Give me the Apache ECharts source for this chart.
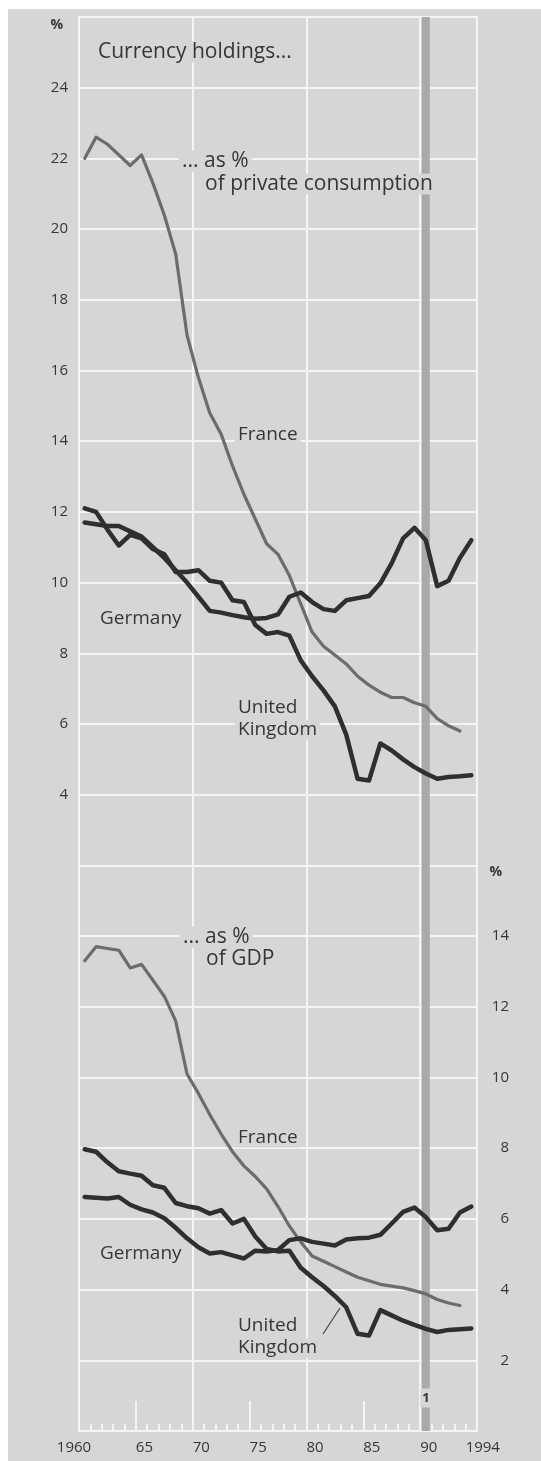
<!DOCTYPE html>
<html>
<head>
<meta charset="utf-8">
<script src="https://cdn.jsdelivr.net/npm/echarts@6/dist/echarts.min.js"></script>
<style>
  html, body { margin: 0; padding: 0; background: #ffffff; }
  #chart { width: 541px; height: 1461px; }
</style>
</head>
<body>
<div id="chart"></div>
<script>
// Years of observation (each plotted at mid-year)
const years = [1960, 1961, 1962, 1963, 1964, 1965, 1966, 1967, 1968, 1969,
               1970, 1971, 1972, 1973, 1974, 1975, 1976, 1977, 1978, 1979,
               1980, 1981, 1982, 1983, 1984, 1985, 1986, 1987, 1988, 1989,
               1990, 1991, 1992, 1993, 1994];

// Currency holdings as % of private consumption
const franceConsumption = [22.0, 22.6, 22.4, 22.1, 21.8, 22.1, 21.3, 20.4, 19.3, 17.0,
                           15.8, 14.8, 14.2, 13.3, 12.5, 11.8, 11.1, 10.8, 10.2, 9.4,
                           8.6, 8.2, 7.95, 7.7, 7.35, 7.1, 6.9, 6.75, 6.75, 6.6,
                           6.5, 6.15, 5.95, 5.8];
const germanyConsumption = [11.7, 11.65, 11.6, 11.6, 11.45, 11.3, 11.0, 10.7, 10.35, 10.0,
                            9.6, 9.2, 9.15, 9.08, 9.02, 8.98, 9.0, 9.1, 9.6, 9.72,
                            9.45, 9.25, 9.2, 9.5, 9.56, 9.62, 9.98, 10.55, 11.25, 11.55,
                            11.2, 9.9, 10.05, 10.7, 11.2];
const ukConsumption = [12.1, 12.0, 11.5, 11.05, 11.35, 11.25, 10.95, 10.8, 10.3, 10.3,
                       10.35, 10.05, 10.0, 9.5, 9.45, 8.8, 8.55, 8.6, 8.5, 7.8,
                       7.35, 6.95, 6.5, 5.7, 4.45, 4.4, 5.45, 5.25, 5.0, 4.78,
                       4.6, 4.45, 4.5, 4.52, 4.55];

// Currency holdings as % of GDP
const franceGDP = [13.3, 13.7, 13.65, 13.6, 13.1, 13.2, 12.75, 12.3, 11.6, 10.1,
                   9.55, 8.95, 8.4, 7.9, 7.5, 7.2, 6.85, 6.35, 5.8, 5.35,
                   4.95, 4.8, 4.65, 4.5, 4.35, 4.25, 4.15, 4.1, 4.05, 3.97,
                   3.88, 3.72, 3.62, 3.55];
const germanyGDP = [6.62, 6.6, 6.58, 6.62, 6.4, 6.27, 6.18, 6.02, 5.75, 5.45,
                    5.2, 5.02, 5.06, 4.97, 4.88, 5.1, 5.08, 5.12, 5.4, 5.45,
                    5.35, 5.3, 5.25, 5.42, 5.45, 5.47, 5.55, 5.87, 6.2, 6.32,
                    6.05, 5.68, 5.72, 6.18, 6.35];
const ukGDP = [7.97, 7.9, 7.6, 7.35, 7.28, 7.22, 6.95, 6.88, 6.45, 6.36,
               6.3, 6.15, 6.25, 5.87, 6.0, 5.5, 5.15, 5.08, 5.1, 4.62,
               4.35, 4.1, 3.82, 3.5, 2.75, 2.7, 3.42, 3.27, 3.12, 3.0,
               2.89, 2.8, 2.86, 2.88, 2.9];

// Axis tick labels
const xLabelYears = [1965, 1970, 1975, 1980, 1985, 1990, 1994];
const xLabelTexts = ['65', '70', '75', '80', '85', '90', '1994'];
const xFirstLabel = '1960';
const leftTickValues = [4, 6, 8, 10, 12, 14, 16, 18, 20, 22, 24];
const rightTickValues = [2, 4, 6, 8, 10, 12, 14];
const unitLabel = '%';

// German unification break
const breakYear = 1990;
const breakNote = '1';

const BG = '#d6d6d6';
const GRID = '#f4f4f4';
const INK = '#363636';
const DARK = '#2f2f2f';
const LIGHT = '#6c6c6c';
const FONT = '"Open Sans", "Noto Sans", sans-serif';

const toPoints = vals => vals.map((v, i) => [years[i] + 0.5, v]);

function lineSeries(name, vals, yIdx, color, width, extra) {
  return Object.assign({
    name: name,
    type: 'line',
    xAxisIndex: 0,
    yAxisIndex: yIdx,
    data: toPoints(vals),
    symbol: 'none',
    showSymbol: false,
    z: 2,
    lineStyle: { color: color, width: width, cap: 'round', join: 'round' },
    emphasis: { disabled: true }
  }, extra || {});
}

function note(text, x, y, size, extraStyle) {
  return {
    type: 'text',
    x: x,
    y: y,
    z: 5,
    silent: true,
    style: Object.assign({
      text: text,
      fill: INK,
      fontSize: size,
      fontFamily: FONT,
      align: 'left',
      verticalAlign: 'middle',
      backgroundColor: BG,
      padding: [0, 3]
    }, extraStyle || {})
  };
}

const chart = echarts.init(document.getElementById('chart'), null, { renderer: 'canvas' });

chart.setOption({
  animation: false,
  backgroundColor: BG,
  textStyle: { fontFamily: FONT },
  grid: { left: 79, right: 64, top: 17, bottom: 30, containLabel: false },
  xAxis: [
    {
      // decade grid lines and the first year label
      type: 'value', min: 1960, max: 1995, interval: 10, position: 'bottom',
      axisLine: { show: true, lineStyle: { color: GRID, width: 2 } },
      axisTick: { show: false },
      splitLine: { show: true, lineStyle: { color: GRID, width: 2 } },
      axisLabel: {
        show: true, margin: 9, color: INK, fontSize: 15, fontFamily: FONT, align: 'center',
        formatter: v => (v === years[0] ? '{f|' + xFirstLabel + '}' : ''),
        rich: { f: { fontSize: 15, color: INK, fontFamily: FONT, padding: [0, 10, 0, 0] } }
      }
    },
    {
      // yearly ticks
      type: 'value', min: 1960, max: 1995, interval: 1, position: 'bottom',
      axisLine: { show: false },
      axisTick: { show: true, inside: true, length: 7, lineStyle: { color: GRID, width: 2 } },
      splitLine: { show: false },
      axisLabel: { show: false }
    },
    {
      // five-year ticks and the remaining year labels
      type: 'value', min: 1960, max: 1995, interval: 5, position: 'bottom',
      axisLine: { show: false },
      axisTick: { show: true, inside: true, length: 30, lineStyle: { color: GRID, width: 2 } },
      splitLine: { show: false },
      axisLabel: {
        show: true, margin: 9, color: INK, fontSize: 15, fontFamily: FONT, align: 'left',
        customValues: xLabelYears,
        formatter: v => {
          const i = xLabelYears.indexOf(v);
          return i >= 0 ? xLabelTexts[i] : '';
        }
      }
    }
  ],
  yAxis: [
    {
      // upper panel: % of private consumption
      type: 'value', min: -14, max: 26, interval: 2, position: 'left',
      axisLine: { show: true, lineStyle: { color: GRID, width: 2 } },
      axisTick: { show: false },
      splitLine: { show: true, lineStyle: { color: GRID, width: 2 } },
      axisLabel: {
        show: true, margin: 11, color: INK, fontSize: 15, fontFamily: FONT,
        formatter: v => {
          if (v === 26) return '{u|' + unitLabel + '}';
          return leftTickValues.indexOf(v) >= 0 && v <= 24 ? String(v) : '';
        },
        rich: { u: { fontSize: 14, color: INK, fontFamily: FONT, fontWeight: 'bold', padding: [16, 5, 0, 0] } }
      }
    },
    {
      // lower panel: % of GDP
      type: 'value', min: 0, max: 40, interval: 2, position: 'right',
      axisLine: { show: true, lineStyle: { color: GRID, width: 2 } },
      axisTick: { show: false },
      splitLine: { show: false },
      axisLabel: {
        show: true, margin: 32, align: 'right', color: INK, fontSize: 15, fontFamily: FONT,
        formatter: v => {
          if (v === 16) return '{u|' + unitLabel + '}';
          return rightTickValues.indexOf(v) >= 0 ? String(v) : '';
        },
        rich: { u: { fontSize: 14, color: INK, fontFamily: FONT, fontWeight: 'bold', padding: [14, 7, 0, 0] } }
      }
    }
  ],
  series: [
    lineSeries('France', franceConsumption, 0, LIGHT, 3.2, {
      markArea: {
        silent: true,
        z: 1,
        itemStyle: { color: '#a9a9a9' },
        label: { show: false },
        data: [[{ xAxis: breakYear + 0.15 }, { xAxis: breakYear + 0.85 }]]
      }
    }),
    lineSeries('Germany', germanyConsumption, 0, DARK, 4.5),
    lineSeries('United Kingdom', ukConsumption, 0, DARK, 4.5),
    lineSeries('France', franceGDP, 1, LIGHT, 3.2),
    lineSeries('Germany', germanyGDP, 1, DARK, 4.5),
    lineSeries('United Kingdom', ukGDP, 1, DARK, 4.5)
  ],
  graphic: [
    { type: 'rect', shape: { x: 0, y: 0, width: 541, height: 9 }, style: { fill: '#ffffff' }, z: 10, silent: true },
    { type: 'rect', shape: { x: 0, y: 0, width: 8, height: 1461 }, style: { fill: '#ffffff' }, z: 10, silent: true },

    note('Currency holdings...', 95, 52, 21),
    note('... as %', 179, 161, 21),
    note('of private consumption', 202, 184, 21),
    note('France', 235, 435, 19),
    note('Germany', 97, 619, 19),
    note('United', 235, 708, 19),
    note('Kingdom', 235, 730, 19),

    note('... as %', 180, 937, 21),
    note('of GDP', 203, 959, 21),
    note('France', 235, 1138, 19),
    note('Germany', 97, 1254, 19),
    note('United', 235, 1326, 19),
    note('Kingdom', 235, 1348, 19),

    note(breakNote, 426, 1398, 13, { fontWeight: 'bold', align: 'center', padding: [3, 2] }),

    {
      type: 'line', z: 5, silent: true,
      shape: { x1: 323, y1: 1334, x2: 340, y2: 1308 },
      style: { stroke: '#4a4a4a', lineWidth: 1.3 }
    }
  ]
});
</script>
</body>
</html>
